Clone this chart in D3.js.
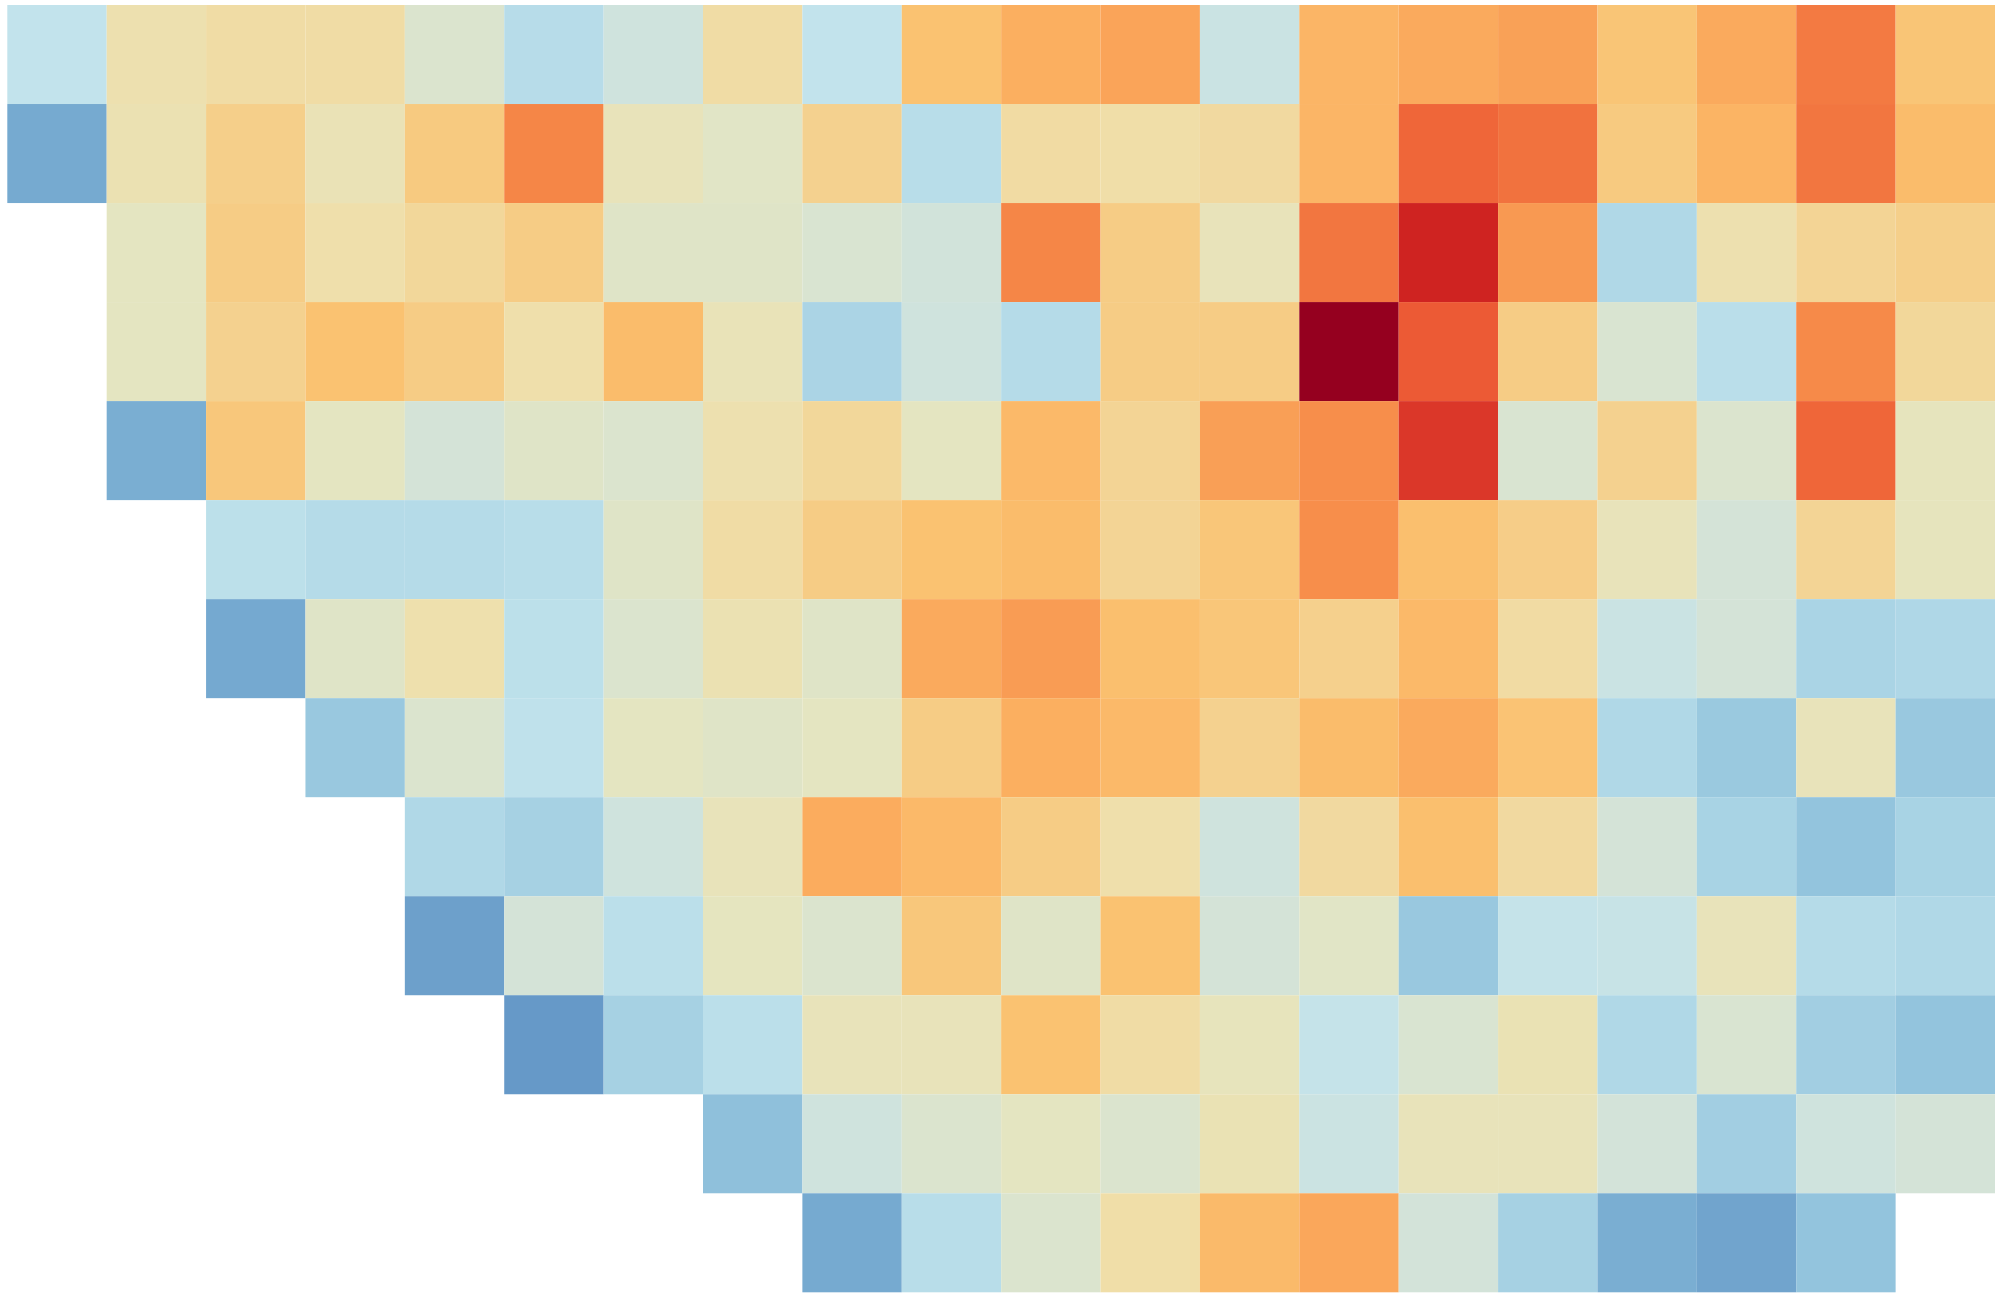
<!DOCTYPE html>
<html>
<head>
<meta charset="utf-8">
<script src="https://cdn.jsdelivr.net/npm/d3@7"></script>
<style>
  html, body { margin: 0; padding: 0; background: #ffffff; }
  svg { display: block; }
</style>
</head>
<body>
<div id="chart"></div>
<script>
// ---- data ----
const columns = d3.range(1, 21).map(i => "C" + i);
const rows = d3.range(1, 14).map(i => "R" + i);

const row01 = [43, 62, 64, 64, 53, 38, 48, 64, 43, 74, 80, 82, 46, 78, 81, 82.5, 73, 81, 88.5, 73];
const row02 = [12, 61, 69, 60, 71, 87, 59, 55.5, 68, 38.5, 64.5, 63.5, 65, 78, 91, 89.5, 71, 78.5, 89, 76];
const row03 = [null, 57, 70, 63, 66, 70, 55, 55, 52, 49, 87, 70, 59, 89, 97, 84, 35, 62, 67, 69];
const row04 = [null, 57, 68, 74, 70, 63, 76, 59.5, 33, 48, 37, 70, 70, 100, 93, 70, 52, 39.5, 86.5, 66];
const row05 = [null, 15, 72, 57, 50, 55, 53, 62, 66, 57, 77, 67, 83, 86, 95.5, 52, 68, 53, 91, 58];
const row06 = [null, null, 40.5, 37, 37, 38.5, 55, 64, 70, 74, 76, 67, 72.5, 86, 75, 69.5, 59, 50, 67, 58];
const row07 = [null, null, 11.5, 55, 62.5, 40.5, 53, 61, 55, 81, 83.5, 75, 72.5, 68.5, 77, 64.5, 46, 50, 32.5, 34.5];
const row08 = [null, null, null, 26, 53, 41.5, 57, 55, 57, 70, 80, 77, 68, 76, 81, 73.5, 35, 26.5, 59, 26];
const row09 = [null, null, null, null, 35, 31, 48, 59, 80.5, 77, 70, 63, 48, 65, 75, 65, 50, 32, 24, 32];
const row10 = [null, null, null, null, 5, 50, 40, 57.5, 53, 72, 55, 74, 50, 55.5, 26, 44, 45, 59, 37, 35];
const row11 = [null, null, null, null, null, 0, 31, 40, 59, 59, 74, 64, 58.5, 44, 52, 60.5, 35, 52, 29.5, 24];
const row12 = [null, null, null, null, null, null, null, 22.5, 48, 53, 57, 53, 60.5, 46.5, 59, 59, 49.5, 29.5, 48, 50];
const row13 = [null, null, null, null, null, null, null, null, 12, 38.5, 53, 63.5, 76.5, 81.5, 49.5, 31, 15, 8, 24, null];

const values = [row01, row02, row03, row04, row05, row06, row07, row08, row09, row10, row11, row12, row13];

// colour ramp (value stops -> colours)
const colorStops = [0, 15, 25, 35, 43, 50, 57, 63, 68, 74, 80, 86, 91, 93, 95.5, 97, 100];
const colorRange = ["#6699c8", "#7aaed2", "#96c6de", "#b0d8e7", "#c2e3ec", "#d4e3d7", "#e4e5c1",
                    "#efdfab", "#f4d18f", "#fac271", "#fbaf60", "#f78e4b", "#ef6639", "#ec5a35",
                    "#db3729", "#cf2321", "#95001f"];

// ---- chart ----
const W = 2000, H = 1300;
const plot = { left: 7.3, right: 1995, top: 5, bottom: 1292.3 };

const svg = d3.select("#chart").append("svg")
  .attr("width", W).attr("height", H)
  .style("background", "#ffffff");

const x = d3.scaleBand().domain(columns).range([plot.left, plot.right]).padding(0);
const y = d3.scaleBand().domain(rows).range([plot.top, plot.bottom]).padding(0);
const color = d3.scaleLinear().domain(colorStops).range(colorRange).clamp(true);

const cells = [];
values.forEach((r, ri) => r.forEach((v, ci) => {
  if (v !== null && v !== undefined) cells.push({ row: rows[ri], col: columns[ci], value: v });
}));

svg.append("g").selectAll("rect")
  .data(cells)
  .join("rect")
  .attr("x", d => x(d.col))
  .attr("y", d => y(d.row))
  .attr("width", x.bandwidth())
  .attr("height", y.bandwidth())
  .attr("fill", d => color(d.value));
</script>
</body>
</html>
